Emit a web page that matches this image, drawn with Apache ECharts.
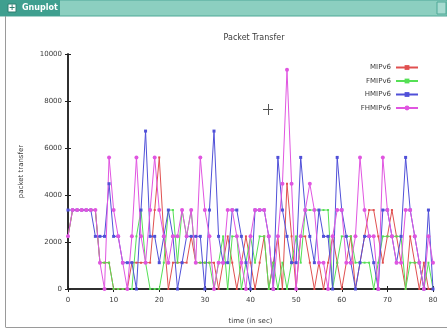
<!DOCTYPE html>
<html>
<head>
<meta charset="utf-8">
<script src="https://cdn.jsdelivr.net/npm/echarts@6/dist/echarts.min.js"></script>
<style>
  html, body { margin: 0; padding: 0; background: #fff; }
  #chart { width: 447px; height: 330px; }
</style>
</head>
<body>
<div id="chart"></div>
<script>
// time in seconds
const timeSec = [
  0, 1, 2, 3, 4, 5, 6, 7, 8, 9, 10, 11, 12, 13, 14, 15, 16, 17, 18, 19,
  20, 21, 22, 23, 24, 25, 26, 27, 28, 29, 30, 31, 32, 33, 34, 35, 36, 37, 38, 39,
  40, 41, 42, 43, 44, 45, 46, 47, 48, 49, 50, 51, 52, 53, 54, 55, 56, 57, 58, 59,
  60, 61, 62, 63, 64, 65, 66, 67, 68, 69, 70, 71, 72, 73, 74, 75, 76, 77, 78, 79, 80
]

const mipv6 = [
  2240, 3360, 3360, 3360, 3360, 3360, 3360, 1120, 1120, 1120,
  0, 0, 0, 0, 1120, 1120, 1120, 1120, 1120, 3360,
  5600, 2240, 0, 1120, 1120, 1120, 1120, 2240, 1120, 1120,
  1120, 1120, 1120, 0, 1120, 2240, 1120, 0, 1120, 2240,
  1120, 0, 1120, 2240, 0, 1120, 2240, 0, 4480, 2240,
  0, 2240, 2240, 1120, 0, 1120, 0, 1120, 2240, 1120,
  0, 1120, 2240, 0, 1120, 2240, 3360, 3360, 2240, 1120,
  2240, 3360, 2240, 1120, 0, 2240, 1120, 0, 1120, 0,
  0
]

const fmipv6 = [
  2240, 3360, 3360, 3360, 3360, 3360, 3360, 1120, 1120, 1120,
  0, 0, 0, 0, 0, 2240, 3360, 1120, 0, 0,
  0, 1120, 3360, 3360, 1120, 3360, 2240, 3360, 1120, 1120,
  1120, 1120, 0, 1120, 2240, 0, 2240, 2240, 0, 1120,
  2240, 1120, 2240, 2240, 0, 1120, 0, 1120, 0, 1120,
  2240, 1120, 3360, 3360, 3360, 3360, 3360, 3360, 0, 1120,
  2240, 2240, 2240, 1120, 1120, 1120, 1120, 0, 1120, 2240,
  2240, 2240, 2240, 2240, 0, 1120, 1120, 1120, 0, 1120,
  0
]

const hmipv6 = [
  3360, 3360, 3360, 3360, 3360, 3360, 2240, 2240, 2240, 4480,
  2240, 2240, 1120, 1120, 1120, 0, 3360, 6720, 2240, 2240,
  1120, 2240, 3360, 2240, 0, 1120, 2240, 2240, 2240, 2240,
  0, 3360, 6720, 2240, 1120, 1120, 3360, 3360, 2240, 1120,
  0, 3360, 3360, 3360, 2240, 0, 5600, 3360, 2240, 1120,
  1120, 5600, 3360, 2240, 1120, 3360, 2240, 2240, 0, 5600,
  3360, 2240, 1120, 0, 1120, 2240, 2240, 1120, 0, 3360,
  3360, 2240, 1120, 2240, 5600, 3360, 2240, 1120, 0, 3360,
  0
]

const fhmipv6 = [
  2240, 3360, 3360, 3360, 3360, 3360, 3360, 1120, 0, 5600,
  3360, 2240, 1120, 0, 2240, 5600, 2240, 1120, 3360, 5600,
  3360, 2240, 1120, 2240, 2240, 3360, 2240, 3360, 1120, 5600,
  3360, 2240, 0, 1120, 1120, 3360, 3360, 2240, 1120, 0,
  2240, 3360, 3360, 3360, 2240, 0, 2240, 4480, 9330, 4480,
  0, 2240, 3360, 4480, 3360, 1120, 1120, 0, 2240, 3360,
  3360, 1120, 1120, 2240, 5600, 3360, 2240, 2240, 0, 5600,
  3360, 2240, 1120, 1120, 3360, 3360, 2240, 1120, 0, 2240,
  1120
]

const xTicks = [0, 10, 20, 30, 40, 50, 60, 70, 80]
const yTicks = [0, 2000, 4000, 6000, 8000, 10000]

const font = 'DejaVu Sans'
const textColor = '#3a3a3a'

const pairs = (vals) => vals.map((v, i) => [timeSec[i], v])

const makeSeries = (name, vals, color, symbol, size) => ({
  name,
  type: 'line',
  data: pairs(vals),
  symbol,
  symbolSize: size,
  showAllSymbol: true,
  lineStyle: { color, width: 1 },
  itemStyle: { color },
  emphasis: { disabled: true },
  animation: false,
})

const chart = echarts.init(document.getElementById('chart'), null, { renderer: 'canvas' })

chart.setOption({
  backgroundColor: '#ffffff',
  animation: false,
  title: {
    text: 'Packet Transfer',
    left: 249,
    top: 29,
    textAlign: 'center',
    textStyle: { fontFamily: font, fontSize: 8, fontWeight: 'normal', color: textColor },
  },
  legend: {
    orient: 'vertical',
    right: 23,
    top: 59,
    align: 'right',
    itemWidth: 22,
    itemHeight: 6,
    itemGap: 6.5,
    textStyle: {
      fontFamily: font, fontSize: 7, color: textColor,
      width: 40, align: 'right', padding: [0, 0, 0, 0],
    },
    data: ['MIPv6', 'FMIPv6', 'HMIPv6', 'FHMIPv6'],
  },
  grid: { left: 68, right: 14, top: 54, bottom: 39 },
  xAxis: [
    {
      type: 'value',
      min: 0,
      max: 80,
      interval: 10,
      name: 'time (in sec)',
      nameLocation: 'middle',
      nameGap: 29,
      nameTextStyle: { fontFamily: font, fontSize: 7, color: textColor },
      axisLine: { show: true, onZero: false, lineStyle: { color: '#222', width: 1.5 } },
      axisTick: { inside: true, length: 3, lineStyle: { color: '#222' } },
      axisLabel: {
        fontFamily: font, fontSize: 7, color: textColor, margin: 8,
        formatter: (v) => (xTicks.includes(v) ? String(v) : ''),
      },
      splitLine: { show: false },
    },
    {
      type: 'value',
      position: 'top',
      min: 0,
      max: 80,
      interval: 10,
      axisLine: { show: true, lineStyle: { color: '#222', width: 1.5 } },
      axisTick: { inside: true, length: 3, lineStyle: { color: '#222' } },
      axisLabel: { show: false },
      splitLine: { show: false },
    },
  ],
  yAxis: [
    {
      type: 'value',
      min: 0,
      max: 10000,
      interval: 2000,
      name: 'packet transfer',
      nameLocation: 'middle',
      nameGap: 43,
      nameRotate: 90,
      nameTextStyle: { fontFamily: font, fontSize: 7, color: textColor },
      axisLine: { show: true, lineStyle: { color: '#222', width: 1.5 } },
      axisTick: { show: true, inside: true, length: 3, lineStyle: { color: '#222' } },
      axisLabel: {
        fontFamily: font, fontSize: 7, color: textColor, margin: 6,
        formatter: (v) => (yTicks.includes(v) ? String(v) : ''),
      },
      splitLine: { show: false },
    },
    {
      type: 'value',
      position: 'right',
      min: 0,
      max: 10000,
      interval: 2000,
      axisLine: { show: true, lineStyle: { color: '#222', width: 1.5 } },
      axisTick: { show: true, inside: true, length: 3, lineStyle: { color: '#222' } },
      axisLabel: { show: false },
      splitLine: { show: false },
    },
  ],
  series: [
    makeSeries('MIPv6', mipv6, '#e05050', 'rect', 2),
    makeSeries('FMIPv6', fmipv6, '#55e055', 'rect', 2),
    makeSeries('HMIPv6', hmipv6, '#5050d8', 'rect', 3),
    makeSeries('FHMIPv6', fhmipv6, '#e055e0', 'circle', 4),
  ],
  graphic: [
    // window title bar
    { type: 'rect', shape: { x: 0, y: 0, width: 447, height: 16 }, style: { fill: '#8ccfc0', stroke: '#4fa897', lineWidth: 1 }, silent: true },
    { type: 'rect', shape: { x: 0, y: 0, width: 60, height: 16 }, style: { fill: '#3f9f8f' }, silent: true },
    { type: 'rect', shape: { x: 8, y: 4, width: 8, height: 8 }, style: { fill: '#ffffff', stroke: '#2f7f70', lineWidth: 1 }, silent: true },
    { type: 'text', x: 12, y: 8, style: { text: '+', fill: '#2f7f70', font: 'bold 8px DejaVu Sans', align: 'center', verticalAlign: 'middle' }, silent: true },
    { type: 'text', x: 22, y: 8, style: { text: 'Gnuplot', fill: '#ffffff', font: 'bold 8px DejaVu Sans', verticalAlign: 'middle' }, silent: true },
    { type: 'rect', shape: { x: 437, y: 2, width: 9, height: 12 }, style: { fill: '#a6dbd0', stroke: '#4fa897', lineWidth: 1 }, silent: true },
    // window frame
    { type: 'line', shape: { x1: 5.5, y1: 16, x2: 5.5, y2: 327 }, style: { stroke: '#9a9a9a', lineWidth: 1 }, silent: true },
    { type: 'line', shape: { x1: 5.5, y1: 327.5, x2: 447, y2: 327.5 }, style: { stroke: '#9a9a9a', lineWidth: 1 }, silent: true },
    // mouse cursor
    { type: 'line', shape: { x1: 263, y1: 109.5, x2: 273, y2: 109.5 }, style: { stroke: '#555', lineWidth: 1 }, silent: true },
    { type: 'line', shape: { x1: 268.5, y1: 104, x2: 268.5, y2: 115 }, style: { stroke: '#555', lineWidth: 1 }, silent: true },
  ],
})
</script>
</body>
</html>
